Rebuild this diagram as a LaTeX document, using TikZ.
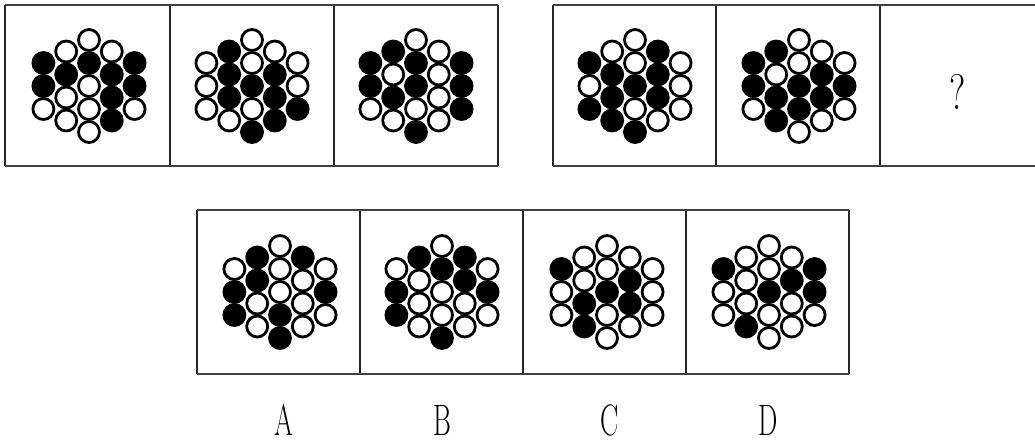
\documentclass[tikz,border=0pt]{standalone}
\begin{document}
\colorlet{c0}{white}
\colorlet{c1}{black}
\tikzset{
  dot/.style={draw=black, line width=2.8pt},
  frame/.style={draw=black!85, line width=1.2pt},
  hline/.style={draw=black!75, line width=2.2pt},
  lbl/.style={inner sep=0pt, font=\fontsize{44}{44}\selectfont, xscale=0.62},
  qmark/.style={inner sep=0pt, font=\fontsize{50}{50}\selectfont, xscale=0.75}
}
\newcommand\hexcolumn[4]{%
  \foreach \v [count=\k from 0] in {#4} {\draw[dot, fill=c\v] ({#1}, {#2-(#3-1)*11.5+\k*23}) circle[radius=10.5pt];}}
\newcommand\hexcluster[7]{%
  \hexcolumn{#1-45.6}{#2}{3}{#3}%
  \hexcolumn{#1-22.8}{#2}{4}{#4}%
  \hexcolumn{#1}{#2}{5}{#5}%
  \hexcolumn{#1+22.8}{#2}{4}{#6}%
  \hexcolumn{#1+45.6}{#2}{3}{#7}}
\begin{tikzpicture}[x=1pt, y=-1pt]
\useasboundingbox (0,0) rectangle (1035,444);
% top-left frame
\foreach \xa in {5,170,334,498} {\draw[frame] (\xa,5) -- (\xa,166);}
\draw[hline] (5,5) -- (498,5);
\draw[hline] (5,166) -- (498,166);
% top-right frame
\foreach \xa in {553,716,880} {\draw[frame] (\xa,5) -- (\xa,166);}
\draw[hline] (553,5) -- (1035,5);
\draw[hline] (553,166) -- (1035,166);
% bottom frame
\foreach \xa in {197,360,523,686,849} {\draw[frame] (\xa,210) -- (\xa,374);}
\draw[hline] (197,210) -- (849,210);
\draw[hline] (197,374) -- (849,374);
% clusters
\hexcluster{89}{86}{1,1,0}{0,1,0,0}{0,1,0,0,0}{0,1,1,1}{1,1,0}
\hexcluster{252}{86}{0,0,0}{1,1,1,0}{0,0,1,0,1}{0,1,1,1}{0,0,1}
\hexcluster{416}{86}{1,1,0}{1,0,1,0}{0,1,1,0,1}{0,0,0,0}{1,1,1}
\hexcluster{635}{86}{1,0,1}{0,1,1,1}{0,0,1,0,1}{1,1,1,0}{0,0,0}
\hexcluster{799}{86}{1,1,0}{1,0,1,1}{0,0,1,1,0}{0,1,1,0}{0,1,0}
\hexcluster{280}{292}{0,1,1}{1,1,0,0}{0,0,0,1,1}{1,0,0,0}{0,1,0}
\hexcluster{442}{292}{0,1,1}{1,0,0,0}{0,1,0,0,1}{1,1,0,0}{0,1,0}
\hexcluster{607}{292}{1,0,0}{0,0,1,1}{0,0,1,0,0}{0,1,1,0}{0,0,0}
\hexcluster{769}{292}{1,0,0}{0,0,0,1}{0,0,1,0,0}{0,1,0,0}{1,1,0}
% question mark and labels
\node[qmark] (q) at (957.5,92) {?};
\node[lbl] (la) at (283.5,420) {A};
\node[lbl] (lb) at (442,420) {B};
\node[lbl] (lc) at (610,420) {C};
\node[lbl] (ld) at (768,420) {D};
\end{tikzpicture}
\end{document}
